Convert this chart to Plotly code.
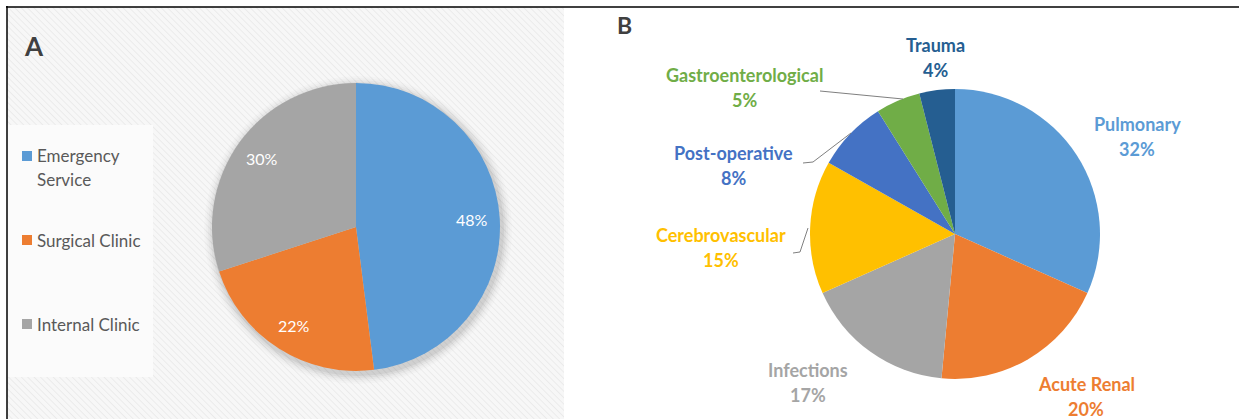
import base64
import math
import plotly.graph_objects as go

# ---------------- data ----------------
a_labels = ["Emergency Service", "Surgical Clinic", "Internal Clinic"]
a_values = [48, 22, 30]
a_colors = ["#5B9BD5", "#ED7D31", "#A5A5A5"]

b_labels = ["Pulmonary", "Acute Renal", "Infections", "Cerebrovascular",
            "Post-operative", "Gastroenterological", "Trauma"]
b_values = [32, 20, 17, 15, 8, 5, 4]
b_colors = ["#5B9BD5", "#ED7D31", "#A5A5A5", "#FFC000", "#4472C4", "#70AD47", "#255E91"]

# ---------------- layout helpers ----------------
W, H = 1239, 419
FONT = "Lato"


def px(x):
    return x / W


def py(y):
    return 1 - y / H


# label placements for panel B (pixel centres of name line), layout only
b_label_pos = {
    "Pulmonary": (1137, 124),
    "Acute Renal": (1086, 384),
    "Infections": (808, 370),
    "Cerebrovascular": (721, 235),
    "Post-operative": (733, 153),
    "Gastroenterological": (745, 75),
    "Trauma": (935, 45),
}
b_leaders = {
    "Cerebrovascular": [(793, 253), (800, 252), (808, 228)],
    "Post-operative": [(803, 163), (813, 162), (851, 133)],
    "Gastroenterological": [(820, 91), (903, 99)],
}
legend_lines = {"Emergency Service": ["Emergency", "Service"]}

# pie geometry (pixels)
A_CX, A_CY, A_R = 356, 227, 144
B_CX, B_CY, B_R = 955, 234, 145

fig = go.Figure()

fig.add_trace(go.Pie(
    labels=a_labels, values=a_values, sort=False, direction="clockwise", rotation=0,
    marker=dict(colors=a_colors, line=dict(width=0)),
    textinfo="none", textposition="none",
    domain=dict(x=[px(A_CX - A_R), px(A_CX + A_R)], y=[py(A_CY + A_R), py(A_CY - A_R)]),
    showlegend=False, hoverinfo="label+percent",
))

fig.add_trace(go.Pie(
    labels=b_labels, values=b_values, sort=False, direction="clockwise", rotation=0,
    marker=dict(colors=b_colors, line=dict(width=0)),
    textinfo="none", textposition="none",
    domain=dict(x=[px(B_CX - B_R), px(B_CX + B_R)], y=[py(B_CY + B_R), py(B_CY - B_R)]),
    showlegend=False, hoverinfo="label+percent",
))

annotations = []
shapes = []

# hatched background of panel A via an inline svg image
svg = ('<svg xmlns="http://www.w3.org/2000/svg" width="557" height="412">'
       '<defs><pattern id="p" width="4.5" height="4.5" patternUnits="userSpaceOnUse" '
       'patternTransform="rotate(-45)"><rect width="4.5" height="4.5" fill="#f7f7f7"/>'
       '<line x1="0" y1="0" x2="0" y2="4.5" stroke="#e8e8e8" stroke-width="1.5"/></pattern></defs>'
       '<rect width="100%" height="100%" fill="url(#p)"/></svg>')
src = "data:image/svg+xml;base64," + base64.b64encode(svg.encode()).decode()
images = [dict(source=src, xref="paper", yref="paper", x=px(7), y=py(7),
               sizex=px(564) - px(7), sizey=py(7) - py(419),
               xanchor="left", yanchor="top", sizing="stretch", layer="below")]

# legend box
shapes.append(dict(type="rect", xref="paper", yref="paper", x0=px(7), x1=px(153),
                   y0=py(377), y1=py(125), fillcolor="#fbfbfb", line=dict(width=0), layer="below"))

# soft shadow around pie A
for i, op in enumerate([0.05, 0.04, 0.03, 0.02, 0.015]):
    rr = A_R + 2 + 2 * i
    cx, cy = A_CX + 2, A_CY + 3
    shapes.append(dict(type="circle", xref="paper", yref="paper",
                       x0=px(cx - rr), x1=px(cx + rr), y0=py(cy + rr), y1=py(cy - rr),
                       fillcolor=f"rgba(0,0,0,{op})", line=dict(width=0), layer="below"))

# frame lines
shapes.append(dict(type="line", xref="paper", yref="paper", x0=px(6), x1=1, y0=py(7), y1=py(7),
                   line=dict(color="black", width=1.5)))
shapes.append(dict(type="line", xref="paper", yref="paper", x0=px(7), x1=px(7), y0=py(6), y1=0,
                   line=dict(color="black", width=1.5)))

# panel letters
annotations.append(dict(text="<b>A</b>", x=px(34), y=py(46), xref="paper", yref="paper",
                        showarrow=False, font=dict(family=FONT, size=26, color="#404040"),
                        xanchor="center", yanchor="middle"))
annotations.append(dict(text="<b>B</b>", x=px(624), y=py(25), xref="paper", yref="paper",
                        showarrow=False, font=dict(family=FONT, size=23, color="#404040"),
                        xanchor="center", yanchor="middle"))

# percentage labels inside pie A, placed on each slice's mid-angle
total = sum(a_values)
cum = 0
for val in a_values:
    mid = (cum + val / 2) / total * 2 * math.pi
    cum += val
    tx = A_CX + 0.81 * A_R * math.sin(mid)
    ty = A_CY - 0.81 * A_R * math.cos(mid)
    annotations.append(dict(text=f"{val}%", x=px(tx), y=py(ty), xref="paper", yref="paper",
                            showarrow=False, xanchor="center", yanchor="middle",
                            font=dict(family=FONT, size=16, color="white")))

# legend for panel A
for i, (lab, col) in enumerate(zip(a_labels, a_colors)):
    y0 = 156 + 84 * i
    shapes.append(dict(type="rect", xref="paper", yref="paper", x0=px(22), x1=px(32),
                       y0=py(y0 + 5), y1=py(y0 - 5), fillcolor=col, line=dict(width=0)))
    for j, line in enumerate(legend_lines.get(lab, [lab])):
        annotations.append(dict(text=line, x=px(35), y=py(y0 + 23 * j), xref="paper", yref="paper",
                                showarrow=False, xanchor="left", yanchor="middle",
                                font=dict(family=FONT, size=17, color="#595959")))

# labels for panel B
for lab, val, col in zip(b_labels, b_values, b_colors):
    x, y = b_label_pos[lab]
    annotations.append(dict(text=f"<b>{lab}</b>", x=px(x), y=py(y), xref="paper", yref="paper",
                            showarrow=False, xanchor="center", yanchor="middle",
                            font=dict(family=FONT, size=18, color=col)))
    annotations.append(dict(text=f"<b>{val}%</b>", x=px(x), y=py(y + 25), xref="paper", yref="paper",
                            showarrow=False, xanchor="center", yanchor="middle",
                            font=dict(family=FONT, size=18, color=col)))

for lab, pts in b_leaders.items():
    path = "M " + " L ".join(f"{px(x)},{py(y)}" for x, y in pts)
    shapes.append(dict(type="path", xref="paper", yref="paper", path=path,
                       line=dict(color="#7f7f7f", width=1)))

fig.update_layout(
    width=W, height=H, margin=dict(l=0, r=0, t=0, b=0),
    paper_bgcolor="white", plot_bgcolor="white",
    annotations=annotations, shapes=shapes, images=images,
    showlegend=False,
)

fig.write_html("out.html", config={"displayModeBar": False},
               post_script="document.body.style.margin='0';document.body.style.overflow='hidden';")
